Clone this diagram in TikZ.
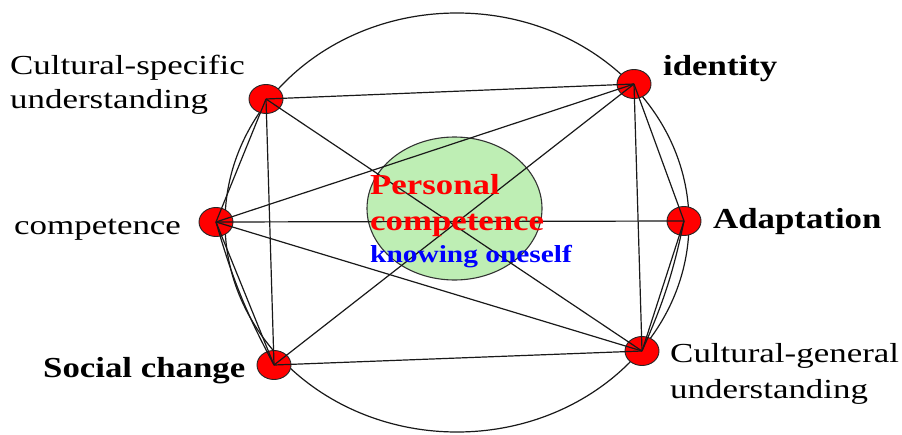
\documentclass[tikz,border=0pt]{standalone}
\usepackage{fontspec}
\setmainfont{Liberation Serif}
\newfontfamily\regf[FakeStretch=1.27]{Liberation Serif}
\newfontfamily\boldf[FakeStretch=1.2]{Liberation Serif}
\usetikzlibrary{shapes.geometric}
\definecolor{pgreen}{RGB}{190,238,180}
\definecolor{edgec}{RGB}{25,25,25}
\tikzset{
  dotn/.style={ellipse, draw=black!85, line width=0.9pt, fill=red, minimum width=34pt, minimum height=29pt, inner sep=0pt},
  edge/.style={draw=edgec, line width=1.2pt},
  regl/.style={anchor=base west, inner sep=0pt, align=left, font=\regf\fontsize{27.5pt}{34pt}\selectfont},
  boldl/.style={anchor=base west, inner sep=0pt, align=left, font=\boldf\bfseries\fontsize{29pt}{34pt}\selectfont},
}
\begin{document}
\begin{tikzpicture}[x=1pt,y=-1pt]
\useasboundingbox (0,0) rectangle (902,434);
\fill[white] (0,0) rectangle (902,434);
% outer circle
\draw[edge] (457,222.5) ellipse [x radius=232pt, y radius=209.5pt];
% inner green circle
\draw[draw=black!80, line width=1.1pt, fill=pgreen] (454.5,208.5) ellipse [x radius=87.5pt, y radius=71.5pt];
% red nodes
\node[dotn] (A) at (266,99) {};
\node[dotn] (I) at (634,84) {};
\node[dotn] (C) at (216,222) {};
\node[dotn] (D) at (684,221) {};
\node[dotn] (S) at (274,365) {};
\node[dotn] (G) at (642,351) {};
% connectors
\draw[edge] (A.center) -- (I.center);
\draw[edge] (A.center) -- (C.center);
\draw[edge] (A.center) -- (S.center);
\draw[edge] (A.center) -- (G.center);
\draw[edge] (I.center) -- (C.center);
\draw[edge] (I.center) -- (S.center);
\draw[edge] (I.center) -- (G.center);
\draw[edge] (I.center) -- (D.center);
\draw[edge] (C.center) -- (D.center);
\draw[edge] (C.center) -- (S.center);
\draw[edge] (C.center) to[bend right=6] (S.center);
\draw[edge] (C.center) -- (G.center);
\draw[edge] (D.center) -- (G.center);
\draw[edge] (D.center) to[bend left=6] (G.center);
\draw[edge] (S.center) -- (G.center);
% labels (base anchor = last line)
\node[regl] (lA) at (10,108) {Cultural-specific\\understanding};
\node[regl] (lC) at (14,234) {competence};
\node[regl, font=\regf\fontsize{27.5pt}{36pt}\selectfont] (lG) at (670,398) {Cultural-general\\understanding};
\node[boldl] (lI) at (663,75) {identity};
\node[boldl] (lD) at (713,228) {Adaptation};
\node[boldl] (lS) at (43,377) {Social change};
\node[boldl, text=red] (lP) at (370,194) {Personal};
\node[boldl, text=red] (lP2) at (370,230) {competence};
\node[anchor=base west, inner sep=0pt, text=blue, font=\boldf\bfseries\fontsize{24.5pt}{30pt}\selectfont] (lK) at (370,262) {knowing oneself};
\end{tikzpicture}
\end{document}
